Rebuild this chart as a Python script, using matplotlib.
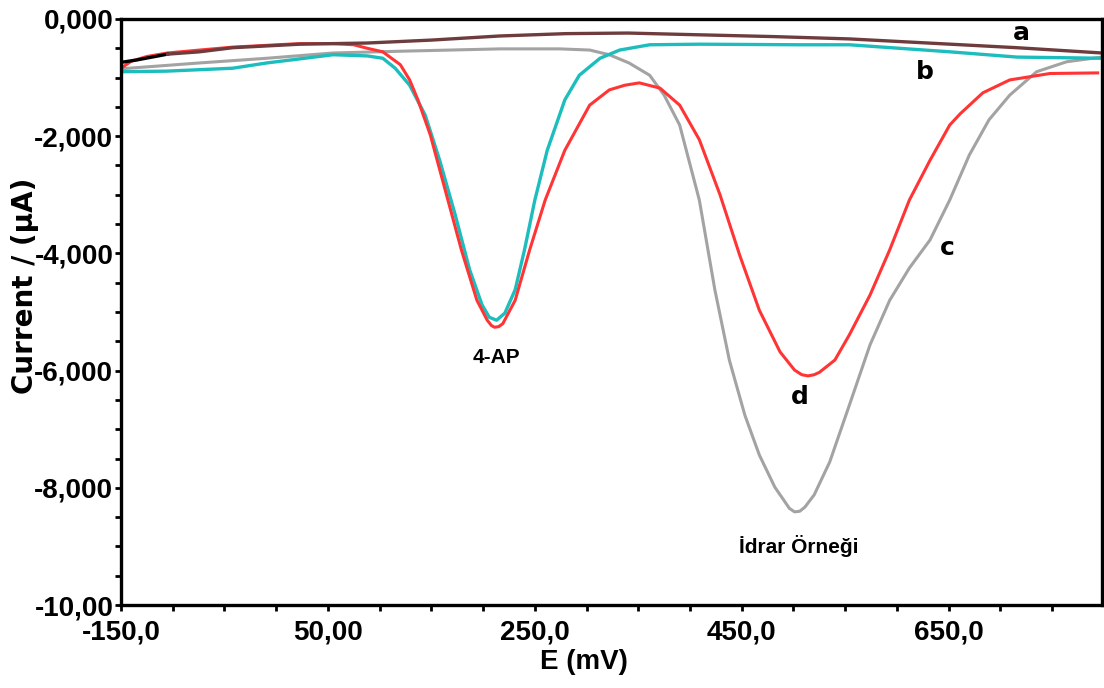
import matplotlib
matplotlib.use("Agg")
import matplotlib.pyplot as plt
from matplotlib.ticker import FixedLocator, MultipleLocator

# potentials (mV) and currents (uA)
a0_E = [-150, -135, -120, -105]
a0_I = [-0.74, -0.70, -0.65, -0.60]

a_E = [-105, -74, -42, 23, 88, 150, 216, 280, 340, 409, 480, 554, 630, 716, 798]
a_I = [-0.60, -0.56, -0.49, -0.43, -0.41, -0.36, -0.29, -0.25, -0.24, -0.27, -0.30, -0.34, -0.41, -0.49, -0.58]

b_E = [-150, -106, -42, -9, 23, 55, 88, 103, 115, 129, 144, 158, 173, 187, 199, 206,
       213, 221, 231, 240, 250, 262, 279, 293, 313, 332, 361, 409, 506, 554, 651, 716, 798]
b_I = [-0.90, -0.89, -0.84, -0.75, -0.68, -0.61, -0.63, -0.67, -0.84, -1.13, -1.64, -2.41,
       -3.34, -4.28, -4.88, -5.09, -5.14, -5.02, -4.62, -3.94, -3.09, -2.24, -1.38, -0.96,
       -0.67, -0.53, -0.44, -0.43, -0.44, -0.44, -0.56, -0.65, -0.67]

c_E = [-150, -74, -9, 55, 120, 216, 274, 303, 322, 341, 361, 375, 390, 409, 424, 438,
       453, 467, 482, 491, 496, 501, 506, 511, 520, 535, 554, 574, 593, 612, 632, 651, 670, 689,
       709, 735, 764, 798]
c_I = [-0.85, -0.75, -0.67, -0.58, -0.55, -0.51, -0.51, -0.53, -0.61, -0.75, -0.96, -1.30,
       -1.81, -3.09, -4.62, -5.82, -6.76, -7.44, -7.99, -8.22, -8.35, -8.41, -8.40, -8.33, -8.12, -7.56,
       -6.59, -5.56, -4.80, -4.25, -3.77, -3.09, -2.32, -1.72, -1.30, -0.90, -0.73, -0.65]

d_E = [-150, -140, -125, -105, -74, -42, 23, 55, 75, 88, 103, 120, 129, 137, 149, 166,
       179, 194, 204, 208, 211, 215, 219, 231, 245, 260, 279, 303, 322, 337, 351, 371, 390, 409,
       429, 448, 467, 487, 501, 508, 514, 520, 525, 540, 554, 574, 593, 612, 632, 651, 661, 683,
       709, 748, 794]
d_I = [-0.84, -0.72, -0.64, -0.58, -0.53, -0.48, -0.42, -0.42, -0.44, -0.50, -0.56, -0.78,
       -1.04, -1.38, -1.98, -3.09, -3.94, -4.80, -5.14, -5.23, -5.26, -5.25, -5.20, -4.80, -3.94, -3.09,
       -2.24, -1.47, -1.21, -1.13, -1.09, -1.18, -1.47, -2.06, -3.00, -4.03, -4.97, -5.68,
       -5.99, -6.07, -6.09, -6.07, -6.03, -5.82, -5.39, -4.71, -3.94, -3.09, -2.41, -1.81, -1.62, -1.26,
       -1.04, -0.93, -0.92]

x_ticks = [-150, 50, 250, 450, 650]
x_labels = ["-150,0", "50,00", "250,0", "450,0", "650,0"]
y_ticks = [0, -2, -4, -6, -8, -10]
y_labels = ["0,000", "-2,000", "-4,000", "-6,000", "-8,000", "-10,00"]

arial = ["Liberation Sans", "DejaVu Sans"]

fig = plt.figure(figsize=(11.04, 6.88), dpi=100)
ax = fig.add_axes([0.1096, 0.1206, 0.8884, 0.8518])

ax.plot(c_E, c_I, color="#a3a3a3", lw=2.2)
ax.plot(b_E, b_I, color="#1dbdbd", lw=2.4)
ax.plot(d_E, d_I, color="#ff3535", lw=2.2)
ax.plot(a0_E, a0_I, color="black", lw=2.4)
ax.plot(a_E, a_I, color="#6e3c3c", lw=2.4)

ax.set_xlim(-150, 798)
ax.set_ylim(-10, 0)
ax.xaxis.set_major_locator(FixedLocator(x_ticks))
ax.xaxis.set_minor_locator(MultipleLocator(50))
ax.yaxis.set_major_locator(FixedLocator(y_ticks))
ax.yaxis.set_minor_locator(MultipleLocator(0.5))
ax.set_xticklabels(x_labels)
ax.set_yticklabels(y_labels)
ax.tick_params(which="both", direction="out", length=4.5, width=2)
ax.tick_params(axis="x", which="major", pad=6)
ax.tick_params(axis="y", which="major", pad=1)
for lab in ax.get_xticklabels() + ax.get_yticklabels():
    lab.set_family(arial)
    lab.set_fontweight("bold")
    lab.set_fontsize(20)
for sp in ax.spines.values():
    sp.set_linewidth(2.4)

ax.set_xlabel("E (mV)", family=arial, fontweight="bold", fontsize=20)
ax.xaxis.set_label_coords(0.4725, -0.075)
ax.set_ylabel("Current / (µA)", fontweight="bold", fontsize=20)
ax.yaxis.set_label_coords(-0.084, 0.545)

big = dict(fontweight="bold", fontsize=18, ha="center", va="center")
ax.text(720, -0.24, "a", **big)
ax.text(627, -0.90, "b", **big)
ax.text(649, -3.91, "c", **big)
ax.text(506, -6.45, "d", **big)
ax.text(213, -5.78, "4-AP", family=arial, fontweight="bold", fontsize=15, ha="center", va="center")
ax.text(505, -9.0, "İdrar Örneği", family=arial, fontweight="bold", fontsize=15, ha="center", va="center")

fig.savefig("out.png", dpi=100)
